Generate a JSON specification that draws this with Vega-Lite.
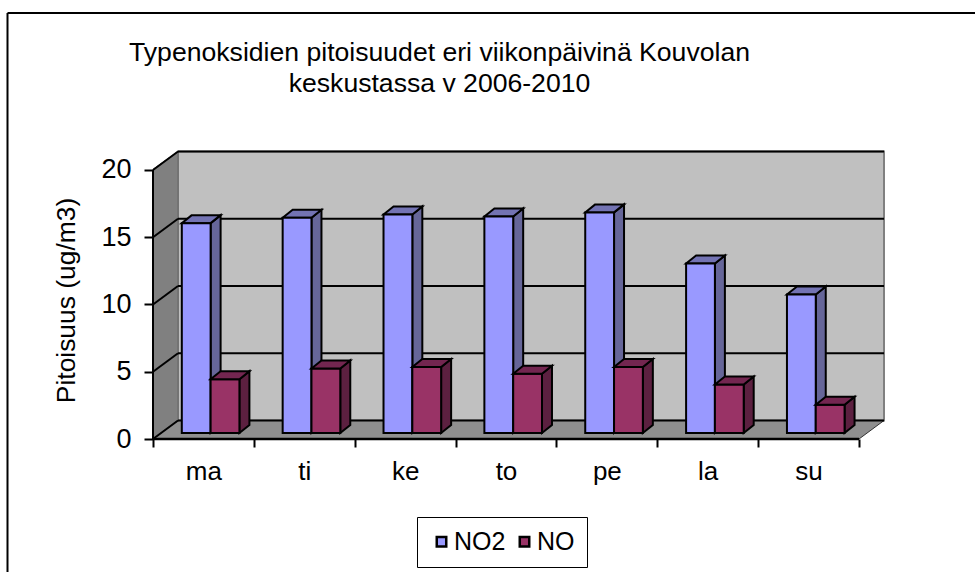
{
"$schema":"https://vega.github.io/schema/vega-lite/v6.json",
"autosize":"none","width":731,"height":288,
"padding":{"left":153,"top":151,"right":91,"bottom":133},
"background":"white",
"view":{"stroke":null},
"config":{"font":"Liberation Sans"},
"title":{"text":["Typenoksidien pitoisuudet eri viikonpäivinä Kouvolan","keskustassa v 2006-2010"],"font":"Liberation Sans","fontSize":26.6,"fontWeight":"normal","color":"black","anchor":"middle","frame":"group","dx":-79,"offset":-86,"lineHeight":31},
"data":{"values":[
{"day":"ma","series":"NO2","value":15.6},{"day":"ma","series":"NO","value":4.0},
{"day":"ti","series":"NO2","value":16.0},{"day":"ti","series":"NO","value":4.8},
{"day":"ke","series":"NO2","value":16.25},{"day":"ke","series":"NO","value":4.9},
{"day":"to","series":"NO2","value":16.1},{"day":"to","series":"NO","value":4.4},
{"day":"pe","series":"NO2","value":16.4},{"day":"pe","series":"NO","value":4.9},
{"day":"la","series":"NO2","value":12.6},{"day":"la","series":"NO","value":3.6},
{"day":"su","series":"NO2","value":10.3},{"day":"su","series":"NO","value":2.1}
]},
"transform":[
{"calculate":"indexof(['ma','ti','ke','to','pe','la','su'],datum.day)+(datum.series=='NO2'?0.2856:0.5712)","as":"l"},
{"calculate":"datum.l+0.2856","as":"r"},
{"calculate":"datum.value+0.446","as":"t"},
{"calculate":"[0,1]","as":"e"},
{"flatten":["e"]},
{"calculate":"datum.r+datum.e*0.0991","as":"sx"},
{"calculate":"datum.t+datum.e*0.595","as":"sy"},
{"calculate":"0.446+datum.e*0.595","as":"sy2"},
{"calculate":"datum.l+datum.e*0.0991","as":"tx"}
],
"encoding":{
"x":{"type":"quantitative","scale":{"domain":[0,7.2478],"nice":false,"zero":false}},
"y":{"type":"quantitative","scale":{"domain":[0,21.41],"nice":false}}
},
"layer":[
{"mark":{"type":"rect","fill":"#c0c0c0","stroke":"#808080","strokeWidth":2},"data":{"values":[{"a":1}]},
 "encoding":{"x":{"datum":0.2479,"type":"quantitative","axis":{"title":null,"orient":"bottom","values":[0,1,2,3,4,5,6,7],"domain":false,"grid":false,"tickColor":"black","tickWidth":2,"tickSize":8,"labelFontSize":26,"labelColor":"black","labelPadding":11,"labelOffset":50.4,"labelFlush":false,"labelBound":false,"labelOverlap":false,"labelExpr":"['ma','ti','ke','to','pe','la','su',''][datum.value]"}},"x2":{"datum":7.2478},
 "y":{"datum":1.375,"type":"quantitative","axis":{"title":"Pitoisuus (ug/m3)","titleFontSize":26.4,"titleFontWeight":"normal","titleColor":"black","titlePadding":20,"titleY":149,"values":[0,5,10,15,20],"domain":false,"grid":false,"tickColor":"black","tickWidth":2,"tickSize":9,"labelFontSize":27,"labelColor":"black","labelPadding":13}},"y2":{"datum":21.375}}},
{"mark":{"type":"area","fill":"#808080","stroke":"#666666","strokeWidth":1},"data":{"values":[{"e":0},{"e":1}]},
 "transform":[{"calculate":"datum.e*0.2479","as":"x"},{"calculate":"20.05+datum.e*1.325","as":"y"},{"calculate":"datum.e*1.375","as":"y2"}],
 "encoding":{"x":{"field":"x","type":"quantitative"},"y":{"field":"y","type":"quantitative"},"y2":{"field":"y2"}}},
{"mark":{"type":"area","orient":"horizontal","fill":"#8f8f8f","stroke":"#333333","strokeWidth":1},"data":{"values":[{"e":0},{"e":1}]},
 "transform":[{"calculate":"datum.e*0.2479","as":"x"},{"calculate":"7+datum.e*0.2479","as":"x2"},{"calculate":"datum.e*1.375","as":"y"}],
 "encoding":{"x":{"field":"x","type":"quantitative"},"x2":{"field":"x2"},"y":{"field":"y","type":"quantitative"}}},
{"mark":{"type":"rule","color":"black","strokeWidth":2},"data":{"values":[{"v":0},{"v":5},{"v":10},{"v":15},{"v":20}]},
 "transform":[{"calculate":"datum.v+1.375","as":"b"}],
 "encoding":{"x":{"datum":0.2479},"x2":{"datum":7.2478},"y":{"field":"b","type":"quantitative"}}},
{"mark":{"type":"rule","color":"black","strokeWidth":2},"data":{"values":[{"v":0},{"v":5},{"v":10},{"v":15},{"v":20}]},
 "transform":[{"calculate":"datum.v+1.375","as":"b"}],
 "encoding":{"x":{"datum":0},"x2":{"datum":0.2479},"y":{"field":"v","type":"quantitative"},"y2":{"field":"b"}}},
{"mark":{"type":"rule","color":"black","strokeWidth":2},"data":{"values":[{"a":1}]},"encoding":{"x":{"datum":0},"y":{"datum":0},"y2":{"datum":20}}},
{"mark":{"type":"rule","color":"black","strokeWidth":2.5},"data":{"values":[{"a":1}]},"encoding":{"x":{"datum":0},"x2":{"datum":7},"y":{"datum":0}}},
{"mark":{"type":"area","orient":"vertical","fill":"#666699","stroke":"black","strokeWidth":2},"transform":[{"filter":"datum.series=='NO2'"}],
 "encoding":{"x":{"field":"sx","type":"quantitative"},"y":{"field":"sy","type":"quantitative"},"y2":{"field":"sy2"},"detail":{"field":"day"}}},
{"mark":{"type":"area","orient":"horizontal","fill":"#7373b3","stroke":"black","strokeWidth":2},"transform":[{"filter":"datum.series=='NO2'"},{"calculate":"datum.tx+0.2856","as":"tx2"}],
 "encoding":{"x":{"field":"tx","type":"quantitative"},"x2":{"field":"tx2"},"y":{"field":"sy","type":"quantitative"},"detail":{"field":"day"}}},
{"mark":{"type":"area","orient":"vertical","fill":"#5c2040","stroke":"black","strokeWidth":2},"transform":[{"filter":"datum.series=='NO'"}],
 "encoding":{"x":{"field":"sx","type":"quantitative"},"y":{"field":"sy","type":"quantitative"},"y2":{"field":"sy2"},"detail":{"field":"day"}}},
{"mark":{"type":"rect","stroke":"black","strokeWidth":2},"transform":[{"filter":"datum.e==0"}],
 "encoding":{"x":{"field":"l","type":"quantitative"},"x2":{"field":"r"},"y":{"field":"t","type":"quantitative"},"y2":{"datum":0.446},
 "color":{"field":"series","type":"nominal","scale":{"domain":["NO2","NO"],"range":["#9999ff","#993366"]},
 "legend":{"orient":"none","legendX":264,"legendY":366,"title":null,"direction":"horizontal","symbolType":"square","symbolSize":90,"symbolStrokeColor":"black","symbolStrokeWidth":2.5,"labelFontSize":25,"labelColor":"black","labelOffset":0,"columnPadding":6,"padding":12,"strokeColor":"black","fillColor":"white"}}}},
{"mark":{"type":"area","orient":"horizontal","fill":"#732650","stroke":"black","strokeWidth":2},"transform":[{"filter":"datum.series=='NO'"},{"calculate":"datum.tx+0.2856","as":"tx2"}],
 "encoding":{"x":{"field":"tx","type":"quantitative"},"x2":{"field":"tx2"},"y":{"field":"sy","type":"quantitative"},"detail":{"field":"day"}}},
{"mark":{"type":"rule","color":"black","strokeWidth":2},"data":{"values":[{"a":1}]},"encoding":{"x":{"datum":-1.4426},"x2":{"datum":8.2},"y":{"datum":31.67}}},
{"mark":{"type":"rule","color":"black","strokeWidth":2},"data":{"values":[{"a":1}]},"encoding":{"x":{"datum":-1.4426},"y":{"datum":31.67},"y2":{"datum":-9.9}}}
]
}
